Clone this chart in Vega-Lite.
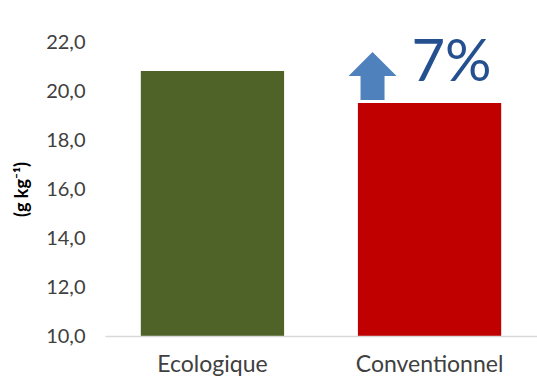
{
  "$schema": "https://vega.github.io/schema/vega-lite/v6.json",
  "width": 432,
  "height": 294,
  "autosize": {"type": "none"},
  "padding": {"left": 105, "top": 42, "right": 0, "bottom": 44},
  "background": "white",
  "config": {"view": {"stroke": null}, "font": "Lato"},
  "data": {"values": [
    {"systeme": "Ecologique", "valeur": 20.82},
    {"systeme": "Conventionnel", "valeur": 19.51}
  ]},
  "encoding": {
    "x": {
      "field": "systeme", "type": "nominal", "sort": null,
      "scale": {"paddingInner": 0.34, "paddingOuter": 0.165},
      "axis": {"title": null, "labelAngle": 0, "labelFontSize": 23, "labelColor": "#404040",
               "labelPadding": 17, "ticks": false, "domainColor": "#d9d9d9", "domainWidth": 1.5, "labelFont": "Lato", "zindex": 1}
    }
  },
  "layer": [
    {
      "mark": {"type": "bar"},
      "encoding": {
        "y": {
          "field": "valeur", "type": "quantitative",
          "scale": {"domain": [10, 22], "zero": false, "nice": false},
          "axis": {"title": "(g kg⁻¹)", "titleFontSize": 18, "titleFontWeight": "bold", "titleColor": "#000000",
                   "titlePadding": 14, "values": [10, 12, 14, 16, 18, 20, 22],
                   "labelExpr": "replace(format(datum.value, '.1f'), '.', ',')",
                   "labelFontSize": 20, "labelColor": "#404040", "labelPadding": 20,
                   "ticks": false, "domain": false, "grid": false}
        },
        "y2": {"datum": 10},
        "color": {
          "field": "systeme", "type": "nominal", "legend": null,
          "scale": {"domain": ["Ecologique", "Conventionnel"], "range": ["#4f6228", "#c00000"]}
        }
      }
    },
    {
      "transform": [{"filter": "datum.systeme === 'Conventionnel'"}],
      "mark": {"type": "point", "filled": true, "color": "#4f81bd", "opacity": 1, "size": 2304, "xOffset": -57,
               "shape": "M0,-1L1,0L0.5,0L0.5,1L-0.5,1L-0.5,0L-1,0Z"},
      "encoding": {"y": {"datum": 20.61}}
    },
    {
      "transform": [{"filter": "datum.systeme === 'Conventionnel'"}],
      "mark": {"type": "text", "text": "7%", "fontSize": 58, "color": "#24508f", "xOffset": 22, "baseline": "middle", "align": "center", "font": "Lato"},
      "encoding": {"y": {"datum": 21.12}}
    }
  ]
}
